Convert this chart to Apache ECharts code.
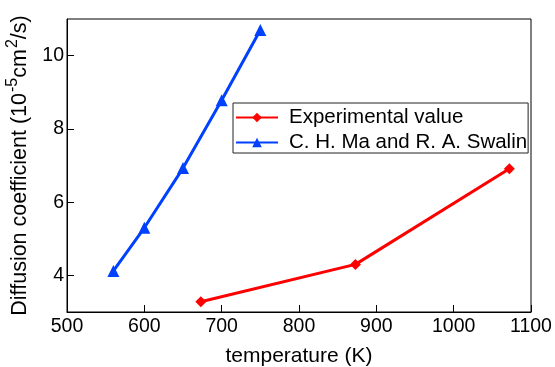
<!DOCTYPE html>
<html><head><meta charset="utf-8">
<script src="https://cdn.jsdelivr.net/npm/echarts@6/dist/echarts.min.js"></script>
<style>html,body{margin:0;padding:0;background:#fff}#c{width:555px;height:367px}</style>
</head><body><div id="c"></div>
<script>
const expT = [673, 873, 1072];
const expD = [3.28, 4.30, 6.91];
const maT = [560, 600, 650, 700, 750];
const maD = [4.12, 5.30, 6.93, 8.78, 10.70];
const xTicks = [500, 600, 700, 800, 900, 1000, 1100];
const yTicks = [4, 6, 8, 10];
const FONT = 'Liberation Sans';
const NUMFONT = 'Liberation Sans';
const chart = echarts.init(document.getElementById('c'));
chart.setOption({
  animation: false,
  textStyle: {fontFamily: FONT},
  grid: {left: 67, right: 24, top: 19, bottom: 55, show: true, borderColor: '#000', borderWidth: 1,
         containLabel: false, outerBoundsMode: 'none'},
  legend: {
    orient: 'vertical', left: 233, top: 103,
    borderColor: '#222', borderWidth: 1, padding: [4, 1, 0, 2], itemGap: 4,
    itemWidth: 42, itemHeight: 12,
    textStyle: {fontFamily: FONT, fontSize: 20.5, lineHeight: 21, color: '#000', padding: [0, 0, 0, 6]},
    data: ['Experimental value', 'C. H. Ma and R. A. Swalin']
  },
  xAxis: {
    type: 'value', min: 500, max: 1100, interval: 100,
    name: 'temperature (K)', nameLocation: 'middle', nameGap: 34,
    nameTextStyle: {fontFamily: FONT, fontSize: 21, color: '#000'},
    axisLine: {lineStyle: {color: '#000'}},
    axisTick: {inside: true, length: 7, lineStyle: {color: '#000'}},
    axisLabel: {fontFamily: NUMFONT, fontSize: 19.5, color: '#000', margin: 5,
      customValues: xTicks, formatter: v => String(v)},
    splitLine: {show: false}
  },
  yAxis: {
    type: 'value', min: 3, max: 11, interval: 1,
    name: '{n|Diffusion coefficient (10}{s|-5}{n|cm}{s|2}{n|/s)}',
    nameLocation: 'middle', nameGap: 30,
    nameTextStyle: {padding: [0, 0, 0, 0], rich: {
      n: {fontFamily: FONT, fontSize: 21.5, color: '#000', lineHeight: 22, verticalAlign: 'bottom'},
      s: {fontFamily: FONT, fontSize: 16, color: '#000', lineHeight: 16, verticalAlign: 'bottom', padding: [0, 0, 11, 1]}
    }},
    axisLine: {lineStyle: {color: '#000'}},
    axisTick: {inside: true, length: 7, lineStyle: {color: '#000'}, customValues: yTicks},
    axisLabel: {fontFamily: NUMFONT, fontSize: 19.5, color: '#000', margin: 3,
      customValues: yTicks, formatter: v => String(v)},
    splitLine: {show: false}
  },
  series: [
    {name: 'Experimental value', type: 'line', data: expT.map((t, i) => [t, expD[i]]),
     symbol: 'diamond', symbolSize: 11, color: '#ff0000', lineStyle: {width: 3, color: '#ff0000'}},
    {name: 'C. H. Ma and R. A. Swalin', type: 'line', data: maT.map((t, i) => [t, maD[i]]),
     symbol: 'triangle', symbolSize: 12, color: '#0040ff', lineStyle: {width: 3, color: '#0040ff'}}
  ]
});
</script></body></html>
